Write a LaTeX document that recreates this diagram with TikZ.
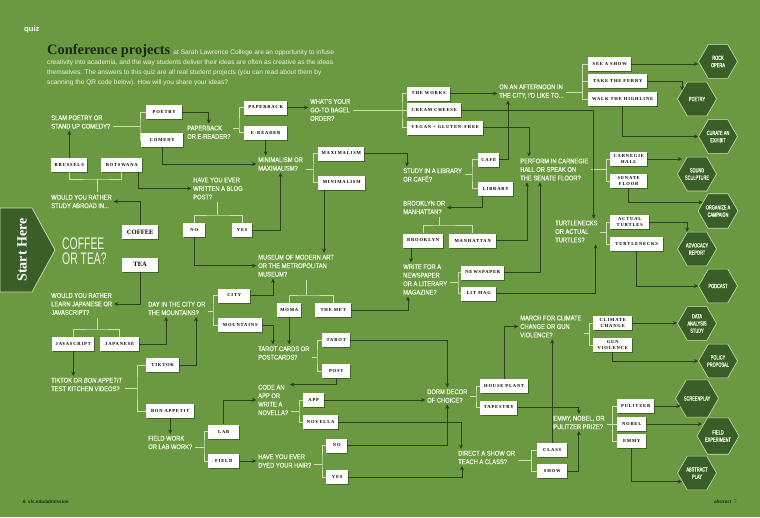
\documentclass[tikz,border=0pt]{standalone}
\usepackage{fontspec}
\setmainfont{Liberation Serif}
\newfontfamily\qfont[FakeStretch=0.85, FakeBold=1]{Liberation Sans}
\newfontfamily\bigqfont[FakeStretch=0.62]{Liberation Sans}
\newfontfamily\hexfont[FakeStretch=0.65, FakeBold=1]{Liberation Sans}
\newfontfamily\boxfont[LetterSpace=18]{Liberation Serif}
\newfontfamily\introfont{Liberation Sans}
\usetikzlibrary{arrows.meta,calc,shapes.geometric,shadows}
\definecolor{bggreen}{RGB}{107,153,66}
\definecolor{darkline}{RGB}{40,66,28}
\definecolor{paleline}{RGB}{205,224,178}
\definecolor{qtext}{RGB}{238,244,225}
\definecolor{hexgreen}{RGB}{58,94,40}
\definecolor{titlegreen}{RGB}{26,42,18}
\begin{document}
\begin{tikzpicture}[x=0.3mm, y=-0.3mm,
  quest/.style={anchor=west, inner sep=0pt, align=left, text=qtext, font=\qfont\fontsize{5.8}{7.25}\selectfont},
  choice/.style={anchor=west, fill=white, minimum width=#1*0.3mm, minimum height=4.2mm, inner xsep=0.5mm, inner ysep=0.2mm, align=center, font=\boxfont\fontsize{3.9}{4.5}\selectfont\bfseries, drop shadow={shadow xshift=0.3mm, shadow yshift=-0.3mm, fill=darkline, opacity=0.6}},
  outcome/.style={regular polygon, regular polygon sides=6, minimum size=11.7mm, inner sep=0pt, fill=hexgreen, draw=paleline, line width=0.5pt, align=center, text=qtext, font=\hexfont\fontsize{5.2}{6.2}\selectfont},
  bracket/.style={draw=paleline, line width=0.6pt},
  stub/.style={bracket, shorten >=0.8mm},
  arr/.style={draw=darkline, line width=0.8pt, -{Stealth[length=1.3mm, width=1.2mm]}, shorten >=0.5mm},
  arrh/.style={arr, shorten >=0pt}]
\fill[bggreen] (0,0) rectangle (760,517);
\useasboundingbox (0,0) rectangle (760,517);

\node[anchor=base west, inner sep=0pt, text=white, font=\introfont\fontsize{6.5}{7}\selectfont\bfseries] (quiz) at (24,31) {quiz};
\node[anchor=base west, inner sep=0pt, text=titlegreen, font=\rmfamily\fontsize{12.3}{14}\selectfont\bfseries] (title) at (47,54) {Conference projects};
\node[anchor=base west, inner sep=0pt, text=qtext, font=\introfont\fontsize{5.6}{8.5}\selectfont] (introa) at ([xshift=0.8mm]title.base east) {at Sarah Lawrence College are an opportunity to infuse};
\node[anchor=north west, inner sep=0pt, align=left, text=qtext, font=\introfont\fontsize{5.6}{8.5}\selectfont] (introb) at (47,59.4) {creativity into academia, and the way students deliver their ideas are often as creative as the ideas\\themselves. The answers to this quiz are all real student projects (you can read about them by\\scanning the QR code below). How will you share your ideas?};

\fill[hexgreen, draw=paleline, line width=0.6pt] (0,208) -- (32,208) -- (55,250) -- (32,292) -- (0,292) -- cycle;
\node[rotate=90, text=white, font=\rmfamily\fontsize{12}{14}\selectfont\bfseries] (start) at (22,250) {Start Here};

\node[quest] (qslam) at (51,122) {SLAM POETRY OR\\STAND UP COMEDY?};
\node[quest] (qabroad) at (51,201.5) {WOULD YOU RATHER\\STUDY ABROAD IN...};
\node[quest] (qblog) at (193,188.5) {HAVE YOU EVER\\WRITTEN A BLOG\\POST?};
\node[quest, font=\bigqfont\fontsize{14.3}{12.8}\selectfont] (qcoffee) at (62,251.5) {COFFEE\\OR TEA?};
\node[quest] (qlearn) at (51,304) {WOULD YOU RATHER\\LEARN JAPANESE OR\\JAVASCRIPT?};
\node[quest] (qtiktok) at (51,384.5) {TIKTOK OR \textit{BON APPETIT}\\TEST KITCHEN VIDEOS?};
\node[quest] (qpaper) at (187,132.3) {PAPERBACK\\OR E-READER?};
\node[quest] (qminmax) at (258,164) {MINIMALISM OR\\MAXIMALISM?};
\node[quest] (qbagel) at (310,110) {WHAT’S YOUR\\GO-TO BAGEL\\ORDER?};
\node[quest] (qmuseum) at (258,265.7) {MUSEUM OF MODERN ART\\OR THE METROPOLITAN\\MUSEUM?};
\node[quest] (qday) at (148,308.5) {DAY IN THE CITY OR\\THE MOUNTAINS?};
\node[quest] (qfield) at (148,442.5) {FIELD WORK\\OR LAB WORK?};
\node[quest] (qtarot) at (258,353) {TAROT CARDS OR\\POSTCARDS?};
\node[quest] (qcode) at (258,400) {CODE AN\\APP OR\\WRITE A\\NOVELLA?};
\node[quest] (qhair) at (258,461) {HAVE YOU EVER\\DYED YOUR HAIR?};
\node[quest] (qstudy) at (403,175) {STUDY IN A LIBRARY\\OR CAFÉ?};
\node[quest] (qbrook) at (403,207.5) {BROOKLYN OR\\MANHATTAN?};
\node[quest] (qwrite) at (403,279.5) {WRITE FOR A\\NEWSPAPER\\OR A LITERARY\\MAGAZINE?};
\node[quest] (qdorm) at (427,396) {DORM DECOR\\OF CHOICE?};
\node[quest] (qdirect) at (458,457.5) {DIRECT A SHOW OR\\TEACH A CLASS?};
\node[quest] (qafter) at (499,91.5) {ON AN AFTERNOON IN\\THE CITY, I’D LIKE TO...};
\node[quest] (qperform) at (520,169.5) {PERFORM IN CARNEGIE\\HALL OR SPEAK ON\\THE SENATE FLOOR?};
\node[quest] (qturtle) at (555,231.5) {TURTLENECKS\\OR ACTUAL\\TURTLES?};
\node[quest] (qmarch) at (520,326.5) {MARCH FOR CLIMATE\\CHANGE OR GUN\\VIOLENCE?};
\node[quest] (qemmy) at (553,422.5) {EMMY, NOBEL, OR\\PULITZER PRIZE?};

\node[choice=36] (poetry) at (146,112) {POETRY};
\node[choice=42] (comedy) at (141,140) {COMEDY};
\node[choice=36] (brussels) at (51,165) {BRUSSELS};
\node[choice=41] (botswana) at (101,165) {BOTSWANA};
\node[choice=36, font=\rmfamily\fontsize{5.6}{6}\selectfont\bfseries] (coffee) at (122,232) {COFFEE};
\node[choice=36, font=\rmfamily\fontsize{5.6}{6}\selectfont\bfseries] (tea) at (122,264.5) {TEA};
\node[choice=22] (no1) at (183,230) {NO};
\node[choice=20] (yes1) at (232,230) {YES};
\node[choice=43] (paperback) at (244,107.5) {PAPERBACK};
\node[choice=43] (ereader) at (244,132.5) {E-READER};
\node[choice=46] (maximalism) at (318,153.5) {MAXIMALISM};
\node[choice=47] (minimalism) at (318,182.5) {MINIMALISM};
\node[choice=24] (moma) at (277,310) {MOMA};
\node[choice=36] (met) at (315,310) {THE MET};
\node[choice=32] (city) at (218,295.5) {CITY};
\node[choice=44] (mountains) at (218,325) {MOUNTAINS};
\node[choice=42] (javascript) at (52,344) {JAVASCRIPT};
\node[choice=39] (japanese) at (100,344) {JAPANESE};
\node[choice=33] (tiktok) at (146,365) {TIKTOK};
\node[choice=48] (bonappetit) at (146,411) {BON APPETIT};
\node[choice=31] (lab) at (208,431.5) {LAB};
\node[choice=31] (field) at (208,461) {FIELD};
\node[choice=28] (tarot) at (322,340) {TAROT};
\node[choice=28] (post) at (322,371) {POST};
\node[choice=21] (app) at (303,400) {APP};
\node[choice=35] (novella) at (303,422) {NOVELLA};
\node[choice=21] (no2) at (326,445.5) {NO};
\node[choice=22] (yes2) at (326,477) {YES};
\node[choice=48] (houseplant) at (480,386) {HOUSE PLANT};
\node[choice=37] (tapestry) at (480,407.5) {TAPESTRY};
\node[choice=30] (class) at (537,450) {CLASS};
\node[choice=30] (show) at (537,471) {SHOW};
\node[choice=37] (pulitzer) at (617,406) {PULITZER};
\node[choice=29] (nobel) at (617,424) {NOBEL};
\node[choice=29] (emmy) at (617,441) {EMMY};
\node[choice=43] (works) at (407,93.5) {THE WORKS};
\node[choice=54] (cream) at (407,110) {CREAM CHEESE};
\node[choice=76] (vegan) at (407,127.5) {VEGAN + GLUTEN-FREE};
\node[choice=21] (cafe) at (478,159.5) {CAFÉ};
\node[choice=35] (library) at (478,188.5) {LIBRARY};
\node[choice=40] (brooklyn) at (403,240.5) {BROOKLYN};
\node[choice=47] (manhattan) at (449,240.5) {MANHATTAN};
\node[choice=43] (newspaper) at (461,272.5) {NEWSPAPER};
\node[choice=35] (litmag) at (461,293.5) {LIT MAG};
\node[choice=43] (seeshow) at (588,64) {SEE A SHOW};
\node[choice=59] (ferry) at (588,81) {TAKE THE FERRY};
\node[choice=69] (highline) at (588,99) {WALK THE HIGHLINE};
\node[choice=37] (carnegie) at (610,159) {CARNEGIE\\HALL};
\node[choice=37] (senate) at (610,181) {SENATE\\FLOOR};
\node[choice=39] (actual) at (610,222) {ACTUAL\\TURTLES};
\node[choice=53] (turtlenecks) at (610,244) {TURTLENECKS};
\node[choice=39] (climate) at (593,323) {CLIMATE\\CHANGE};
\node[choice=39] (gun) at (593,345) {GUN\\VIOLENCE};

\node[outcome] (hrock) at (718,61.5) {ROCK\\OPERA};
\node[outcome] (hpoetry) at (697,99) {POETRY};
\node[outcome] (hcurate) at (718,136.5) {CURATE AN\\EXHIBIT};
\node[outcome] (hsound) at (697,174) {SOUND\\SCULPTURE};
\node[outcome] (horganize) at (718,211) {ORGANIZE A\\CAMPAIGN};
\node[outcome] (hadvocacy) at (697,249) {ADVOCACY\\REPORT};
\node[outcome] (hpodcast) at (718,286) {PODCAST};
\node[outcome] (hdata) at (697,323.5) {DATA\\ANALYSIS\\STUDY};
\node[outcome] (hpolicy) at (718,361) {POLICY\\PROPOSAL};
\node[outcome] (hscreen) at (697,398.5) {SCREENPLAY};
\node[outcome] (hfield) at (718,436) {FIELD\\EXPERIMENT};
\node[outcome] (habstract) at (697,473) {ABSTRACT\\PLAY};

\node[anchor=base west, inner sep=0pt, text=titlegreen, font=\introfont\fontsize{4}{5}\selectfont\bfseries] (pageleft) at (23,503) {6\enspace slc.edu/admission};
\node[anchor=base east, inner sep=0pt, text=titlegreen, font=\rmfamily\fontsize{4.5}{5}\selectfont] (pageright) at (737,503) {\textbf{\textit{abstract}}\enspace 7};

\coordinate (jslam) at (140,126);
\draw[bracket] (poetry.west) -| (jslam) |- (comedy.west);
\draw[stub] (jslam) -- (jslam -| qslam.east);
\coordinate (jabroad) at (97,179);
\draw[bracket] (brussels.south) |- (jabroad) -| (botswana.south);
\draw[stub] (jabroad) -- (jabroad |- qabroad.north);
\coordinate (jblog) at (217,215);
\draw[bracket] (no1.north) |- (jblog) -| (yes1.north);
\draw[stub] (jblog) -- (jblog |- qblog.south);
\coordinate (jpaper) at (239,128);
\draw[bracket] (paperback.west) -| (jpaper) |- (ereader.west);
\draw[stub] (jpaper) -- (jpaper -| qpaper.east);
\coordinate (jminmax) at (313,169);
\draw[bracket] (maximalism.west) -| (jminmax) |- (minimalism.west);
\draw[stub] (jminmax) -- (jminmax -| qminmax.east);
\coordinate (jbagel) at (402,110);
\draw[bracket] (works.west) -| (jbagel) |- (vegan.west);
\draw[bracket] (cream.west) -- (jbagel);
\draw[stub] (jbagel) -- (jbagel -| qbagel.east);
\coordinate (jmuseum) at (306,295);
\draw[bracket] (moma.north) |- (jmuseum) -| (met.north);
\draw[stub] (jmuseum) -- (jmuseum |- qmuseum.south);
\coordinate (jday) at (213,311);
\draw[bracket] (city.west) -| (jday) |- (mountains.west);
\draw[stub] (jday) -- (jday -| qday.east);
\coordinate (jlearn) at (97,329);
\draw[bracket] (javascript.north) |- (jlearn) -| (japanese.north);
\draw[stub] (jlearn) -- (jlearn |- qlearn.south);
\coordinate (jtiktok) at (137,388);
\draw[bracket] (tiktok.west) -| (jtiktok) |- (bonappetit.west);
\draw[stub] (jtiktok) -- (jtiktok -| qtiktok.east);
\coordinate (jfield) at (204,447);
\draw[bracket] (lab.west) -| (jfield) |- (field.west);
\draw[stub] (jfield) -- (jfield -| qfield.east);
\coordinate (jtarot) at (317,357);
\draw[bracket] (tarot.west) -| (jtarot) |- (post.west);
\draw[stub] (jtarot) -- (jtarot -| qtarot.east);
\coordinate (jcode) at (299,411);
\draw[bracket] (app.west) -| (jcode) |- (novella.west);
\draw[stub] (jcode) -- (jcode -| qcode.east);
\coordinate (jhair) at (322,464);
\draw[bracket] (no2.west) -| (jhair) |- (yes2.west);
\draw[stub] (jhair) -- (jhair -| qhair.east);
\coordinate (jstudy) at (472,174);
\draw[bracket] (cafe.west) -| (jstudy) |- (library.west);
\draw[stub] (jstudy) -- (jstudy -| qstudy.east);
\coordinate (jbrook) at (439,225);
\draw[bracket] (brooklyn.north) |- (jbrook) -| (manhattan.north);
\draw[stub] (jbrook) -- (jbrook |- qbrook.south);
\coordinate (jwrite) at (458,282);
\draw[bracket] (newspaper.west) -| (jwrite) |- (litmag.west);
\draw[stub] (jwrite) -- (jwrite -| qwrite.east);
\coordinate (jdorm) at (476,396);
\draw[bracket] (houseplant.west) -| (jdorm) |- (tapestry.west);
\draw[stub] (jdorm) -- (jdorm -| qdorm.east);
\coordinate (jdirect) at (531,460);
\draw[bracket] (class.west) -| (jdirect) |- (show.west);
\draw[stub] (jdirect) -- (jdirect -| qdirect.east);
\coordinate (jafter) at (582,92);
\draw[bracket] (seeshow.west) -| (jafter) |- (highline.west);
\draw[bracket] (ferry.west) -- (ferry.west -| jafter);
\draw[stub] (jafter) -- (jafter -| qafter.east);
\coordinate (jperform) at (606,169);
\draw[bracket] (carnegie.west) -| (jperform) |- (senate.west);
\draw[stub] (jperform) -- (jperform -| qperform.east);
\coordinate (jturtle) at (606,232);
\draw[bracket] (actual.west) -| (jturtle) |- (turtlenecks.west);
\draw[stub] (jturtle) -- (jturtle -| qturtle.east);
\coordinate (jmarch) at (589,333);
\draw[bracket] (climate.west) -| (jmarch) |- (gun.west);
\draw[stub] (jmarch) -- (jmarch -| qmarch.east);
\coordinate (jemmy) at (612,424);
\draw[bracket] (pulitzer.west) -| (jemmy) |- (emmy.west);
\draw[bracket] (nobel.west) -- (jemmy);
\draw[stub] (jemmy) -- (jemmy -| qemmy.east);

\draw[arr] (coffee.north) |- (qabroad.east);
\draw[arr] (tea.south) |- (qlearn.east);
\draw[arr] (brussels.north) -- (brussels.north |- qslam.south);
\draw[arr] ($(botswana.south east)+(-4,0)$) |- (qblog.west);
\draw[arr] (poetry.east) -| (qpaper.north);
\draw[arr] (comedy.south) |- (qminmax.west);
\draw[arr] (paperback.east) -- (paperback.east -| qbagel.west);
\draw[arr] (ereader.south) -- (ereader.south |- qminmax.north);
\draw[arr] (maximalism.east) -| ($(qstudy.north west)+(4,0)$);
\coordinate (mini) at ($(minimalism.south west)+(6,0)$);
\draw[arr] (mini) -- (mini |- qmuseum.north);
\draw[arr] (no1.south) |- (qmuseum.west);
\draw[arr] (yes1.east) -| (qminmax.south);
\draw[arr] (city.east) -| ($(qmuseum.south west)+(15,0)$);
\draw[arr] (mountains.east) -| ($(qtarot.north west)+(15,0)$);
\draw[arr] (moma.south) -- (moma.south |- qtarot.north);
\draw[arr] (met.east) -| ($(qwrite.south west)+(5,0)$);
\draw[arr] (japanese.east) -| ($(qday.south west)+(18,0)$);
\draw[arr] (tiktok.east) -| ($(qday.south west)+(48,0)$);
\draw[arr] (javascript.south) -- (javascript.south |- qtiktok.north);
\draw[arr] (bonappetit.south) -- (bonappetit.south |- qfield.north);
\draw[arr] (lab.north) |- (qcode.west);
\draw[arr] (field.east) -- (field.east -| qhair.west);
\draw[arr] (post.south) |- (qcode.north east);
\draw[arr] (tarot.east) -| (qdorm.north);
\draw[arr] (app.east) -- (app.east -| qdorm.west);
\draw[arr] (novella.east) -| ($(qdirect.north west)+(3,0)$);
\draw[arr] (no2.east) -| (qdorm.south);
\draw[arr] (yes2.east) -| ($(qdirect.south west)+(4,0)$);
\draw[arr] (houseplant.north) |- (qmarch.west);
\draw[arr] (tapestry.east) -| (qemmy.north);
\draw[arr] (class.north) -- (class.north |- qmarch.south);
\draw[arr] (show.east) -| (qemmy.south);
\draw[arr] (works.east) -- (works.east -| qafter.west);
\draw[arr] (cream.east) -| ($(qturtle.north east)+(-4,0)$);
\draw[arr] (vegan.east) -| ($(qperform.north west)+(9,0)$);
\draw[arr] (cafe.east) -| ($(qafter.south west)+(9,0)$);
\coordinate (lib) at ($(library.south west)+(4,0)$);
\draw[arr] (lib) |- (qbrook.east);
\coordinate (brk) at ($(brooklyn.south west)+(8,0)$);
\draw[arr] (brk) -- (brk |- qwrite.north);
\draw[arr] (manhattan.east) -| ($(qperform.south west)+(7,0)$);
\draw[arr] (newspaper.east) -| ($(qperform.south west)+(20,0)$);
\draw[arr] (litmag.east) -| ($(qturtle.south east)+(-2,0)$);

\draw[arrh] (seeshow.east) -- (seeshow.east -| hrock.west);
\draw[arrh] (ferry.east) -| (hpoetry.150);
\draw[arrh] (highline.south) |- (hcurate.west);
\draw[arrh] (carnegie.east) -- (carnegie.east -| hsound.150);
\draw[arrh] (senate.south) |- (horganize.150);
\draw[arrh] (actual.east) -| (hadvocacy.120);
\draw[arrh] (turtlenecks.south) |- (hpodcast.west);
\draw[arrh] (climate.east) -- (climate.east -| hdata.west);
\draw[arrh] (gun.south) |- (hpolicy.west);
\draw[arrh] (pulitzer.east) -- (pulitzer.east -| hscreen.210);
\draw[arrh] (nobel.east) -- (nobel.east -| hfield.150);
\draw[arrh] (emmy.south) |- (habstract.210);
\end{tikzpicture}
\end{document}
